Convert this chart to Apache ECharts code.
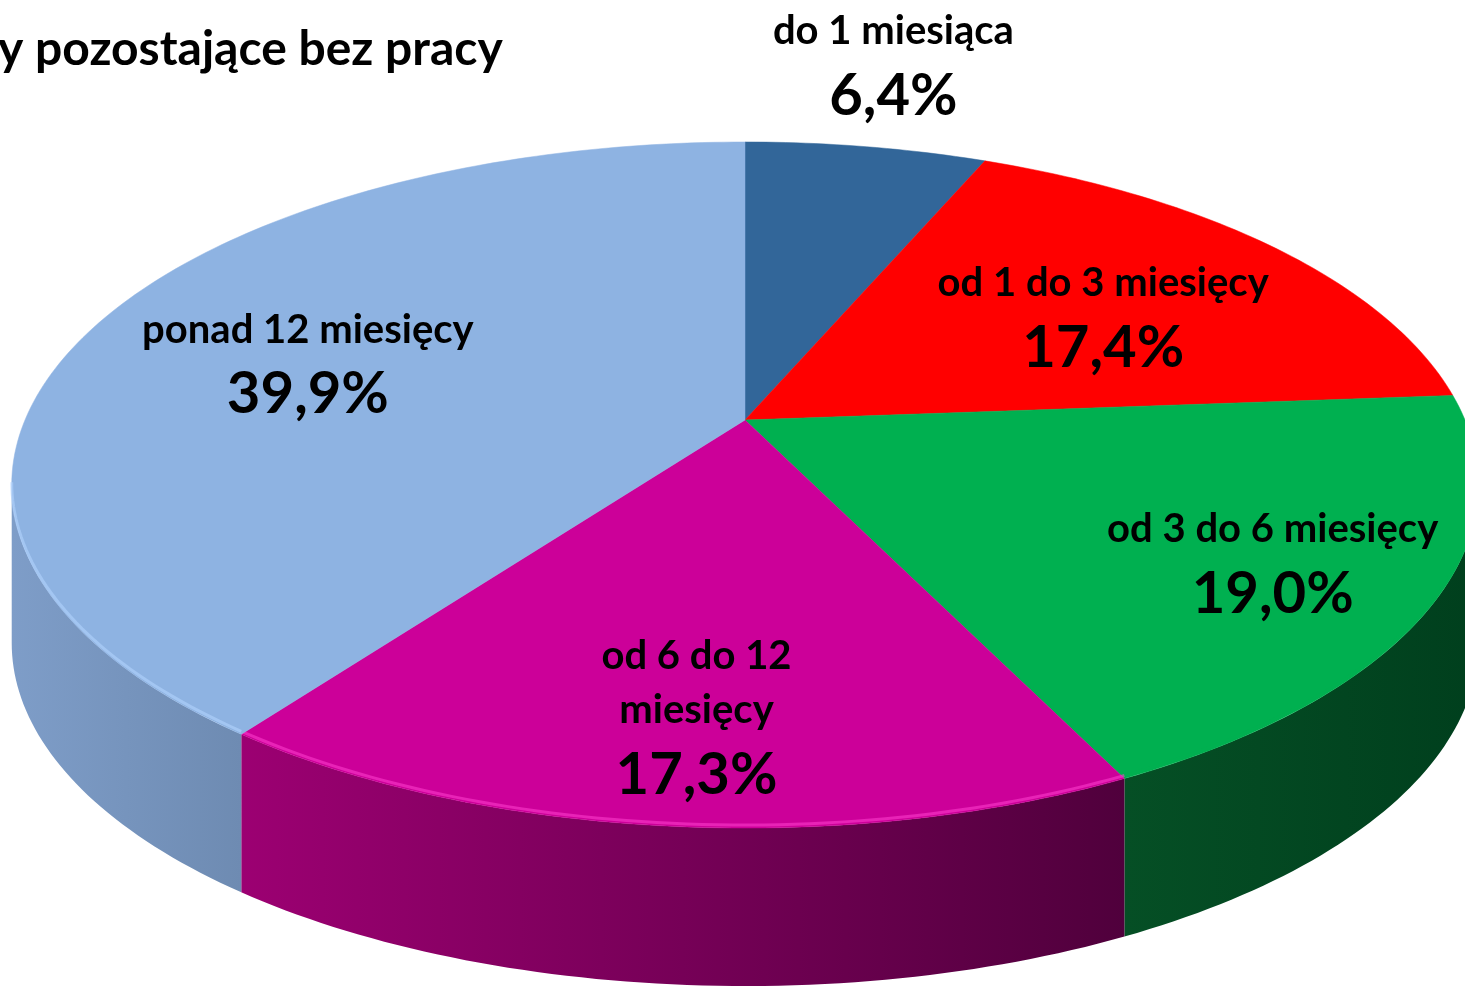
<!DOCTYPE html>
<html>
<head>
<meta charset="utf-8">
<script src="https://cdn.jsdelivr.net/npm/echarts@6/dist/echarts.min.js"></script>
<style>
  html, body { margin: 0; padding: 0; background: #fff; }
  #chart { width: 1465px; height: 989px; }
</style>
</head>
<body>
<div id="chart"></div>
<script>
// dane
var categories = ['do 1 miesiąca', 'od 1 do 3 miesięcy', 'od 3 do 6 miesięcy', 'od 6 do 12 miesięcy', 'ponad 12 miesięcy'];
var values = [6.4, 17.4, 19.0, 17.3, 39.9];
var valueLabels = ['6,4%', '17,4%', '19,0%', '17,3%', '39,9%'];

// kolory (góra, ściana lewa, ściana prawa, obwódka)
var topColors = ['#326699', '#ff0000', '#00b050', '#cc0099', '#8eb3e2'];
var wallLeft = ['#224870', '#a00000', '#054f25', '#9c0072', '#7e9dc8'];
var wallRight = ['#1c3c5e', '#800000', '#003f1d', '#50003c', '#6e8bb2'];
var rimColors = ['#5a8cc0', '#ff5050', '#00b050', '#ff40d0', '#b4d6ff'];
// położenie etykiet: promień względny i przesunięcie kąta (stopnie)
var labelRadius = [1.38, 0.627, 0.785, 0.765, 0.654];
var labelShift = [-0.7, 3.2, 0.4, -0.9, -2.0];
var LABEL_DY = 6;

var CX = 745, CY = 420, RX = 720, RY = 330.7, K = -0.1895, DEPTH = 158;
var WALL_FROM = 100.95 * Math.PI / 180, WALL_TO = 259.05 * Math.PI / 180;

function proj(r, ang, dy) {
  var u = r * Math.sin(ang), v = -r * Math.cos(ang);
  var w = 1 + K * v;
  return [CX + RX * u / w, CY + RY * v / w + (dy || 0)];
}

function arcPoints(a0, a1, dy) {
  var pts = [];
  var n = Math.max(2, Math.ceil((a1 - a0) / (Math.PI / 180)));
  for (var i = 0; i <= n; i++) {
    pts.push(proj(1, a0 + (a1 - a0) * i / n, dy));
  }
  return pts;
}

var total = values.reduce(function (s, v) { return s + v; }, 0);

function renderItem(params, api) {
  var idx = params.dataIndex;
  var before = 0;
  for (var i = 0; i < idx; i++) before += values[i];
  var a0 = before / total * Math.PI * 2;
  var a1 = (before + api.value(0)) / total * Math.PI * 2;
  var children = [];

  // ściana boczna (tylko przednia część)
  var w0 = Math.max(a0, WALL_FROM), w1 = Math.min(a1, WALL_TO);
  if (w1 > w0) {
    var top = arcPoints(w0, w1, 0);
    var bottom = arcPoints(w0, w1, DEPTH).reverse();
    children.push({
      type: 'polygon',
      shape: { points: top.concat(bottom) },
      style: {
        fill: new echarts.graphic.LinearGradient(0, 0, 1, 0, [
          { offset: 0, color: wallLeft[idx] },
          { offset: 1, color: wallRight[idx] }
        ]),
        stroke: null
      }
    });
  }

  // górna powierzchnia
  var face = [proj(0, 0)].concat(arcPoints(a0, a1, 0));
  children.push({
    type: 'polygon',
    shape: { points: face },
    style: { fill: topColors[idx], stroke: topColors[idx], lineWidth: 0.5 }
  });

  // jasna obwódka na krawędzi
  if (w1 > w0) {
    children.push({
      type: 'polyline',
      shape: { points: arcPoints(w0, w1, -3) },
      style: { stroke: rimColors[idx], lineWidth: 3, opacity: 0.55, fill: null }
    });
  }

  // etykieta
  var mid = (a0 + a1) / 2 + labelShift[idx] * Math.PI / 180;
  var lp = proj(labelRadius[idx], mid, LABEL_DY);
  var name = categories[idx];
  if (idx === 3) name = name.replace('12 ', '12\n');
  children.push({
    type: 'text',
    x: lp[0],
    y: lp[1],
    z2: 100,
    style: {
      text: '{n|' + name + '}\n{v|' + valueLabels[idx] + '}',
      align: 'center',
      verticalAlign: 'middle',
      rich: {
        n: { fontFamily: 'Lato', fontWeight: 'bold', fontSize: 40, lineHeight: 54, fill: '#000' },
        v: { fontFamily: 'Lato', fontWeight: 'bold', fontSize: 58, lineHeight: 76, fill: '#000' }
      }
    }
  });

  return { type: 'group', children: children };
}

var chart = echarts.init(document.getElementById('chart'));
var option = {
  backgroundColor: '#ffffff',
  animation: false,
  title: {
    text: 'y pozostające bez pracy',
    left: -7,
    top: 21,
    textStyle: { fontFamily: 'Lato', fontWeight: 'bold', fontSize: 48, color: '#000' }
  },
  series: [{
    type: 'custom',
    coordinateSystem: 'none',
    renderItem: renderItem,
    data: values.map(function (v, i) { return { name: categories[i], value: [v] }; })
  }]
};
chart.setOption(option);
</script>
</body>
</html>
